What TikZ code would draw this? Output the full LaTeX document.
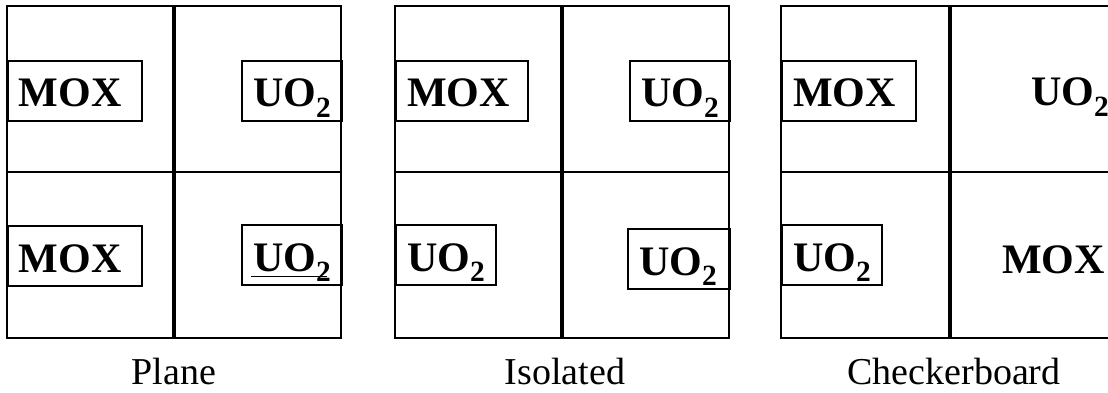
\documentclass[tikz,border=0pt]{standalone}
\usepackage{fontspec}
\setmainfont{Liberation Serif}
\usepackage{tikz}
\usetikzlibrary{positioning}
\newcommand{\pinfont}{\bfseries\fontsize{42}{46}\selectfont}
\tikzset{
  wall/.style={line width=2pt},
  gap wall/.style={line width=4pt},
  pin/.style={
    draw, line width=2pt, anchor=north west,
    inner xsep=11pt, inner ysep=0pt,
    text height=46pt, text depth=14pt,
    text width=#1, align=left,
    font=\pinfont
  },
  bare pin/.style={anchor=base west, inner sep=0pt, font=\pinfont},
  caption/.style={anchor=base, inner sep=0pt, font=\fontsize{38}{40}\selectfont},
}

\begin{document}
\begin{tikzpicture}[x=1pt, y=-1pt]
  \useasboundingbox (0,0) rectangle (1108,393);
  \clip (0,0) rectangle (1108,393);

  % Plane
  \draw[wall] (7,6) rectangle (341,338);
  \draw[wall] (7,172) -- (341,172);
  \draw[gap wall] (174,6) -- (174,338);
  \node[pin=112pt] (pmoxa) at (7,60) {MOX};
  \node[pin=78pt] (puoa) at (241,60) {UO\textsubscript{2}};
  \node[pin=112pt] (pmoxb) at (7,225) {MOX};
  \node[pin=78pt] (puob) at (241,224) {UO\textsubscript{2}};
  \draw[line width=1pt] (251,276) -- (327,276);
  \node[caption] (plane) at (174,384) {Plane};

  % Isolated
  \draw[wall] (395,6) rectangle (729,338);
  \draw[wall] (395,172) -- (729,172);
  \draw[gap wall] (562,6) -- (562,338);
  \node[pin=110pt] (imox) at (395,60) {MOX};
  \node[pin=78pt] (iuoa) at (629,60) {UO\textsubscript{2}};
  \node[pin=78pt] (iuob) at (395,224) {UO\textsubscript{2}};
  \node[pin=80pt] (iuoc) at (627,228) {UO\textsubscript{2}};
  \node[caption] (isolated) at (565,384) {Isolated};

  % Checkerboard
  \draw[wall] (781,6) rectangle (1119,338);
  \draw[wall] (781,172) -- (1119,172);
  \draw[gap wall] (950,6) -- (950,338);
  \node[pin=112pt] (cmoxa) at (781,60) {MOX};
  \node[bare pin] (cuoa) at (1031,106) {UO\textsubscript{2}};
  \node[pin=78pt] (cuob) at (781,224) {UO\textsubscript{2}};
  \node[bare pin] (cmoxb) at (1002,273) {MOX};
  \node[caption] (checker) at (954,384) {Checkerboard};
\end{tikzpicture}
\end{document}
